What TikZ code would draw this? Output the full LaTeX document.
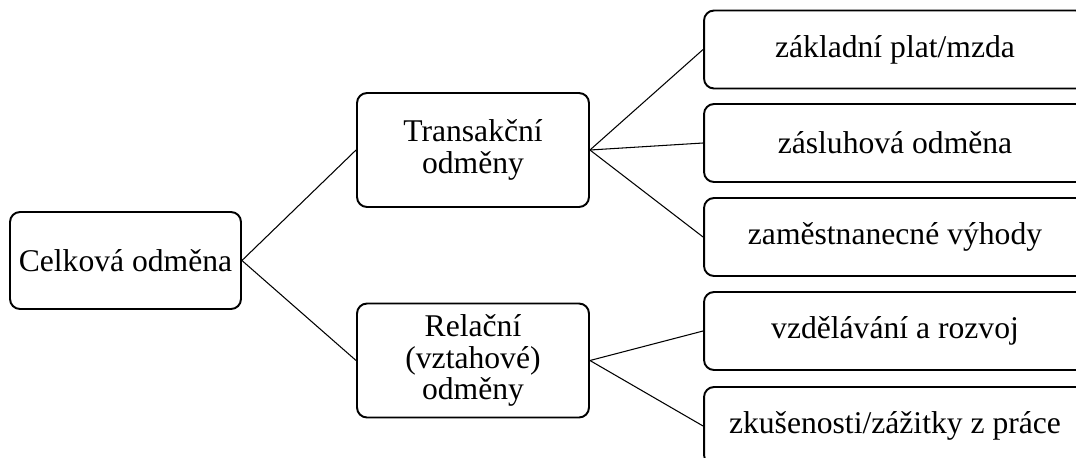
\documentclass[tikz,border=0pt]{standalone}
\usepackage{fontspec}
\setmainfont{Liberation Serif}

\begin{document}
\begin{tikzpicture}[x=0.02cm, y=-0.02cm, thick]

  \useasboundingbox (0, 0) rectangle (1076, 457);
  \clip (0, 0) rectangle (1076, 457);

  \tikzset{
    box/.style={draw, line width=1.1pt, rounded corners=0.2cm, align=center,
                inner sep=0pt, font=\fontsize{18}{17.9}\selectfont},
    link/.style={line width=0.6pt}
  }

  \node[box, minimum width=4.62cm, minimum height=1.94cm] (root) at (125.5, 260.5) {Celková odměna};
  \node[box, minimum width=4.64cm, minimum height=2.28cm] (tr) at (473, 150) {Transakční\\odměny};
  \node[box, minimum width=4.64cm, minimum height=2.28cm] (rel) at (473, 360.5) {Relační\\(vztahové)\\odměny};

  \draw[link] (root.east) -- (tr.west);
  \draw[link] (root.east) -- (rel.west);

  \foreach \y/\txt/\from [count=\n] in {49.5/{základní plat/mzda}/tr, 143/{zásluhová odměna}/tr,
                                        237/{zaměstnanecné výhody}/tr, 331/{vzdělávání a rozvoj}/rel,
                                        426/{zkušenosti/zážitky z práce}/rel} {
    \node[box, minimum width=7.64cm, minimum height=1.56cm] (r\n) at (895, \y) {\txt};
    \draw[link] (\from.east) -- (r\n.west);
  }

\end{tikzpicture}
\end{document}
